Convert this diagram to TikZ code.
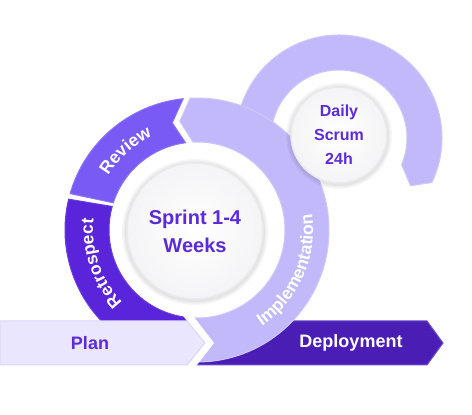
\documentclass[tikz,border=0pt]{standalone}
\usepackage{fontspec}
\setmainfont{Liberation Sans}
\usetikzlibrary{decorations.text}
\definecolor{review}{HTML}{7A5AF5}
\definecolor{reviewb}{HTML}{8C72F7}
\definecolor{retro}{HTML}{5A24DA}
\definecolor{retrob}{HTML}{6A3DE0}
\definecolor{impl}{HTML}{C1B9F9}
\definecolor{implb}{HTML}{CEC8FA}
\definecolor{plan}{HTML}{E9E6FD}
\definecolor{planb}{HTML}{DCD7FA}
\definecolor{deploy}{HTML}{4A1EB5}
\definecolor{deployb}{HTML}{6C4FD3}
\definecolor{txtp}{HTML}{5B2BD9}
\definecolor{circf}{HTML}{F4F4F6}
\definecolor{circb}{HTML}{EAEAEE}
\newcommand\ringlab{\fontsize{17.5}{19}\selectfont\bfseries\color{white}}
\tikzset{
  seg/.style={line width=1pt},
  band/.style={line width=1pt},
  gapline/.style={draw=white, line width=8pt, line join=miter},
  bubble/.style={circle, shade, inner color=white, outer color=circf, draw=circb, line width=1.5pt, text=txtp, align=center, inner sep=0pt},
  halo/.style={fill=black, opacity=0.035},
  bandtext/.style={font=\fontsize{18}{20}\selectfont\bfseries},
  ringtext/.style={decorate, decoration={text along path, text align=center, text={|\ringlab|#1}}}
}
\begin{document}
\begin{tikzpicture}[x=1pt,y=1pt]
\useasboundingbox (0,0) rectangle (472,415);
\fill[white] (0,0) rectangle (472,415);
\coordinate (C) at (197,185);
\coordinate (D) at (339,277);

% daily scrum ring
\filldraw[fill=impl, draw=implb, seg] ([shift={(D)}]-25.6:103) arc[start angle=-25.6, end angle=185, radius=103]
  -- ([shift={(D)}]185:68) arc[start angle=185, end angle=-23, radius=68]
  -- ([shift={(D)}]-33.7:86) -- cycle;

% deployment band
\filldraw[fill=deploy, draw=deployb, band] (190,94) -- (427,94) -- (443,72) -- (427,50) -- (190,50) -- cycle;

% main ring
\filldraw[fill=retro, draw=retrob, seg] ([shift={(C)}]166.5:132) arc[start angle=166.5, end angle=267, radius=132]
  -- ([shift={(C)}]267:88) arc[start angle=267, end angle=164.5, radius=88] -- cycle;
\filldraw[fill=review, draw=reviewb, seg] ([shift={(C)}]96:132) arc[start angle=96, end angle=164, radius=132]
  -- ([shift={(C)}]162:88) arc[start angle=162, end angle=97.5, radius=88]
  -- ([shift={(C)}]103:110) -- cycle;
\filldraw[fill=impl, draw=implb, seg] ([shift={(C)}]-93:132) arc[start angle=-93, end angle=93, radius=132]
  -- ([shift={(C)}]99:110) -- ([shift={(C)}]92.6:88) arc[start angle=92.6, end angle=-93, radius=88] -- cycle;

% chevron gap
\draw[gapline] (186,102) -- (192,94) -- (209,72) -- (192,50) -- (188,45);

% plan band
\filldraw[fill=plan, draw=planb, band] (0,94) -- (187,94) -- (205,72) -- (187,50) -- (0,50) -- cycle;

% ring labels
\path[ringtext=Review] ([shift={(C)}]152:104) arc[start angle=152, end angle=112, radius=104];
\path[ringtext=Retrospect] ([shift={(C)}]232:104) arc[start angle=232, end angle=166, radius=104];
\path[ringtext=Implementation] ([shift={(C)}]-66:116) arc[start angle=-66, end angle=18, radius=116];

% bubbles
\foreach \r in {73,71.5,70} \fill[halo] (195,183) circle (\r);
\node[bubble, minimum size=136pt, font=\fontsize{20}{28}\selectfont\bfseries] (sprint) at (195,184) {Sprint 1-4\\Weeks};
\foreach \r in {53,51.5,50} \fill[halo] (339,279) circle (\r);
\node[bubble, minimum size=96pt, font=\fontsize{16}{24}\selectfont\bfseries] (daily) at (339,280) {Daily\\Scrum\\24h};

% band labels
\node[bandtext, text=txtp] (plantxt) at (90,72) {Plan};
\node[bandtext, text=white] (deptxt) at (351,72) {Deployment};
\end{tikzpicture}
\end{document}
